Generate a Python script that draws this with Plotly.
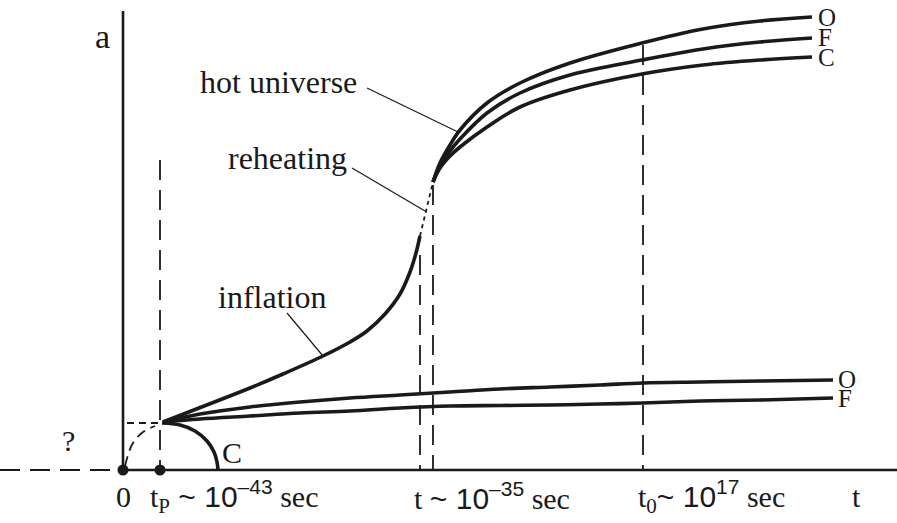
import plotly.graph_objects as go

# ---- schematic data, in page units (x to the right, y measured downward) ----
W, H = 897, 523
AXIS_Y = 470          # position of the time axis
AXIS_X = 123          # position of the a-axis
T_P = 160             # Planck time marker
T_INF_END = 420       # end of inflation
T_REHEAT = 433        # start of hot universe
T_NOW = 643           # present time

# inflation branch
INF_X = [163, 217, 250, 283, 323, 350, 367, 385, 400, 410, 416, 420]
INF_Y = [422, 401, 388, 374, 356, 342, 331, 314, 294, 272, 253, 236]

# reheating (dotted) link
REH_X = [420, 433]
REH_Y = [236, 182]

# hot universe branches (O, F, C)
HOT_X = [433, 440, 450, 460, 487, 520, 570, 642, 703, 760, 812]
HOT_O = [182, 163, 145, 130, 103, 83, 63, 43, 29, 21, 17]
HOT_F = [182, 166, 151, 139, 113, 93, 75, 60, 49, 42, 38]
HOT_C = [182, 168, 156, 147, 127, 107, 90, 74, 65, 60, 57]

# non-inflationary branches from Planck time (O, F)
LOW_X = [163, 200, 250, 300, 350, 400, 450, 500, 550, 600, 643, 700, 760, 833]
LOW_O = [422, 414, 407, 402, 398, 395, 392, 389, 387, 385, 383, 382, 381, 380]
LOW_F = [422, 419, 416, 413, 411, 408, 406, 405.5, 405, 404, 403, 401, 400, 398]

# closed branch from Planck time
CL_X = [162, 180, 195, 207, 214, 217, 218]
CL_Y = [423, 425, 431, 441, 452, 462, 470]

# uncertain pre-Planck dashed arc
ARC_X = [125, 128, 133, 143, 155]
ARC_Y = [466, 455, 443, 432, 426]

DOTS_X = [AXIS_X, T_P]

# ---- figure ----
fig = go.Figure()
BLACK = "#1a1a1a"

def line(x, y, width=3.6, dash="solid", shape="spline", color=BLACK):
    fig.add_trace(go.Scatter(x=x, y=y, mode="lines",
                             line=dict(color=color, width=width, dash=dash, shape=shape),
                             hoverinfo="skip", showlegend=False))

# axes
line([0, AXIS_X], [AXIS_Y, AXIS_Y], width=2.2, dash="20px,10px", shape="linear")
line([AXIS_X, W], [AXIS_Y, AXIS_Y], width=2.6, shape="linear")
line([AXIS_X, AXIS_X], [11, AXIS_Y], width=2.6, shape="linear")

# dashed verticals
line([T_P, T_P], [160, AXIS_Y], width=1.8, dash="20px,10px", shape="linear")
line([T_INF_END, T_INF_END], [255, AXIS_Y], width=1.8, dash="20px,10px", shape="linear")
line([T_REHEAT, T_REHEAT], [185, AXIS_Y], width=1.8, dash="20px,10px", shape="linear")
line([T_NOW, T_NOW], [45, AXIS_Y], width=1.8, dash="20px,10px", shape="linear")

# pre-Planck dashes
line([AXIS_X + 4, T_P], [423, 423], width=1.8, dash="7px,5px", shape="linear")
line(ARC_X, ARC_Y, width=1.8, dash="10px,6px")

# curves
line(INF_X, INF_Y)
line(REH_X, REH_Y, width=1.8, dash="4px,4px", shape="linear")
line(HOT_X, HOT_O)
line(HOT_X, HOT_F)
line(HOT_X, HOT_C)
line(LOW_X, LOW_O)
line(LOW_X, LOW_F)
line(CL_X, CL_Y)

# leader lines
line([367, 458], [88, 132], width=1.2, shape="linear")
line([352, 425], [168, 211], width=1.2, shape="linear")
line([287, 323], [313, 356], width=1.2, shape="linear")

# dots
fig.add_trace(go.Scatter(x=DOTS_X, y=[AXIS_Y, AXIS_Y], mode="markers",
                         marker=dict(color=BLACK, size=11), hoverinfo="skip", showlegend=False))

SERIF = "Liberation Serif"
SANS = "Liberation Sans"

def text(x, y, s, size=32, family=SERIF, xanchor="center"):
    fig.add_annotation(x=x, y=y, xref="x", yref="y", text=s, showarrow=False,
                       font=dict(family=family, size=size, color=BLACK),
                       xanchor=xanchor, yanchor="middle")

text(102, 36, "a", 34)
text(278, 82, "hot universe", 32)
text(287, 158, "reheating", 32)
text(272, 297, "inflation", 32)
text(68, 440, "?", 30)
text(232, 452, "C", 30)

for yv, s in [(17, "O"), (37, "F"), (57, "C")]:
    text(816, yv, s, 25, xanchor="left")
for yv, s in [(379, "O"), (398, "F")]:
    text(836, yv, s, 25, xanchor="left")

sp = lambda s: f'<span style="font-family:{SANS}">{s}</span>'
text(123, 496, "0", 30)
text(148, 496, "t<sub>P</sub>" + sp(" ~ 10<sup>–43</sup>") + " sec", 30, xanchor="left")
text(412, 496, "t " + sp("~ 10<sup>–35</sup>") + " sec", 30, xanchor="left")
text(636, 496, "t<sub>0</sub>" + sp("~ 10<sup>17</sup>") + " sec", 30, xanchor="left")
text(856, 496, "t", 30)

fig.update_layout(
    width=W, height=H,
    margin=dict(l=0, r=0, t=0, b=0),
    paper_bgcolor="white", plot_bgcolor="white",
    xaxis=dict(range=[0, W], visible=False, fixedrange=True),
    yaxis=dict(range=[H, 0], visible=False, fixedrange=True),
)

fig.write_html("out.html", config={"displayModeBar": False},
               post_script="document.body.style.margin='0';document.body.style.overflow='hidden';")
